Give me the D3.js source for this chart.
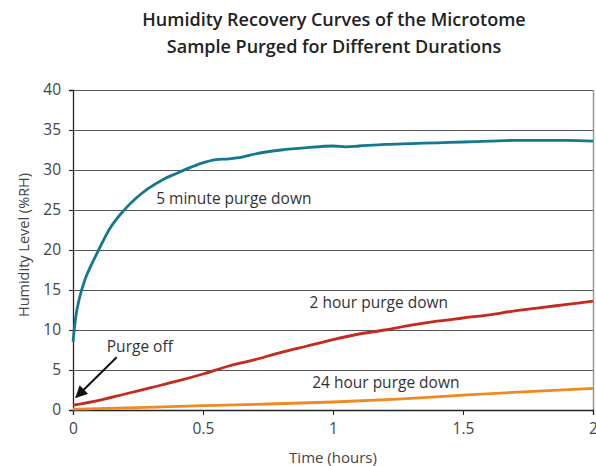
<!DOCTYPE html>
<html>
<head>
<meta charset="utf-8">
<script src="https://cdn.jsdelivr.net/npm/d3@7"></script>
<style>
body { margin: 0; background: #fff; }
svg text { font-family: "Open Sans", sans-serif; }
</style>
</head>
<body>
<svg id="chart" width="596" height="466"></svg>
<script>
// values (time in hours, humidity in %RH)
var fiveMinT = [0, 0.01, 0.025, 0.046, 0.07, 0.097, 0.14, 0.194, 0.24, 0.29, 0.34, 0.40, 0.45, 0.49, 0.55, 0.60, 0.65, 0.70, 0.80, 0.90, 1.0, 1.05, 1.1, 1.2, 1.3, 1.4, 1.5, 1.6, 1.7, 1.8, 1.9, 2.0];
var fiveMinH = [8.5, 11.5, 14.0, 16.3, 18.1, 19.9, 22.6, 24.9, 26.4, 27.7, 28.7, 29.6, 30.3, 30.8, 31.3, 31.4, 31.6, 32.0, 32.5, 32.8, 33.0, 32.9, 33.0, 33.2, 33.3, 33.4, 33.5, 33.6, 33.7, 33.7, 33.7, 33.6];
var twoHourT = [0, 0.1, 0.2, 0.3, 0.4, 0.5, 0.6, 0.7, 0.8, 0.9, 1.0, 1.1, 1.2, 1.3, 1.4, 1.5, 1.6, 1.7, 1.8, 1.9, 2.0];
var twoHourH = [0.6, 1.2, 2.0, 2.8, 3.6, 4.5, 5.5, 6.3, 7.2, 8.0, 8.8, 9.5, 10.0, 10.6, 11.1, 11.5, 11.9, 12.4, 12.8, 13.2, 13.6];
var dayT = [0, 0.25, 0.5, 0.75, 1.0, 1.25, 1.5, 1.75, 2.0];
var dayH = [0.1, 0.3, 0.55, 0.75, 1.0, 1.35, 1.85, 2.3, 2.7];
var yTicks = [0, 5, 10, 15, 20, 25, 30, 35, 40];
var xTicks = [0, 0.5, 1, 1.5, 2];

var svg = d3.select("#chart");
var margin = {top: 90, right: 3, bottom: 56, left: 73};
var w = 596 - margin.left - margin.right;
var h = 466 - margin.top - margin.bottom;

var x = d3.scaleLinear().domain([0, 2]).range([0, w]);
var y = d3.scaleLinear().domain([0, 40]).range([h, 0]);

var g = svg.append("g").attr("transform", "translate(" + margin.left + "," + margin.top + ")");

// title
var title = svg.append("text")
	.attr("text-anchor", "middle")
	.style("font-weight", "600")
	.style("font-size", "18px")
	.style("fill", "#222");
title.append("tspan").attr("x", 334).attr("y", 26).text("Humidity Recovery Curves of the Microtome");
title.append("tspan").attr("x", 334).attr("y", 53).text("Sample Purged for Different Durations");

// gridlines
g.selectAll(".grid")
	.data(yTicks.filter(function(d) { return d > 0; }))
	.enter()
	.append("line")
	.attr("x1", 0).attr("x2", w)
	.attr("y1", function(d) { return y(d) + 0.5; })
	.attr("y2", function(d) { return y(d) + 0.5; })
	.style("stroke", "#555")
	.style("stroke-width", 1.2);

// right border
g.append("line")
	.attr("x1", w + 0.5).attr("x2", w + 0.5)
	.attr("y1", 0).attr("y2", h)
	.style("stroke", "#999")
	.style("stroke-width", 1.5);

// axes
var yAxis = g.append("g")
	.call(d3.axisLeft(y).tickValues(yTicks).tickSize(4).tickPadding(8));
var xAxis = g.append("g")
	.attr("transform", "translate(0," + h + ")")
	.call(d3.axisBottom(x).tickValues(xTicks).tickSize(5).tickPadding(8).tickFormat(d3.format("")));
[yAxis, xAxis].forEach(function(a) {
	a.attr("font-family", null);
	a.select(".domain").style("stroke", "#222").style("stroke-width", 1.3);
	a.selectAll(".tick line").style("stroke", "#222");
	a.selectAll(".tick text")
		.style("font-size", "15.5px")
		.style("fill", "#444");
});

// axis titles
svg.append("text")
	.attr("x", margin.left + w / 2)
	.attr("y", 463)
	.attr("text-anchor", "middle")
	.style("font-size", "15px")
	.style("fill", "#444")
	.text("Time (hours)");
svg.append("text")
	.attr("transform", "translate(29," + (margin.top + h / 2 - 5) + ") rotate(-90)")
	.attr("text-anchor", "middle")
	.style("font-size", "14.5px")
	.style("fill", "#444")
	.text("Humidity Level (%RH)");

// curves
var series = [
	{t: dayT, v: dayH, color: "#ee8a22"},
	{t: twoHourT, v: twoHourH, color: "#c42a1e"},
	{t: fiveMinT, v: fiveMinH, color: "#14788f"}
];
var line = d3.line()
	.x(function(d) { return x(d[0]); })
	.y(function(d) { return y(d[1]); })
	.curve(d3.curveMonotoneX);
series.forEach(function(s) {
	g.append("path")
		.datum(d3.zip(s.t, s.v))
		.attr("d", line)
		.style("fill", "none")
		.style("stroke", s.color)
		.style("stroke-width", 2.8);
});

// curve labels
var labels = [
	{text: "5 minute purge down", t: 0.32, v: 25.8},
	{text: "2 hour purge down", t: 0.91, v: 12.8},
	{text: "24 hour purge down", t: 0.92, v: 2.8}
];
g.selectAll(".lbl")
	.data(labels)
	.enter()
	.append("text")
	.attr("x", function(d) { return x(d.t); })
	.attr("y", function(d) { return y(d.v); })
	.style("font-size", "15.5px")
	.style("fill", "#333")
	.text(function(d) { return d.text; });

// purge off annotation
svg.append("defs").append("marker")
	.attr("id", "arrow")
	.attr("viewBox", "0 0 10 10")
	.attr("refX", 9).attr("refY", 5)
	.attr("markerWidth", 7).attr("markerHeight", 6)
	.attr("markerUnits", "strokeWidth")
	.attr("orient", "auto")
	.append("path")
	.attr("d", "M0,0 L10,5 L0,10 Z")
	.style("fill", "#111");
g.append("line")
	.attr("x1", x(0.168)).attr("y1", y(6.6))
	.attr("x2", x(0.012)).attr("y2", y(1.6))
	.style("stroke", "#111")
	.style("stroke-width", 2)
	.attr("marker-end", "url(#arrow)");
g.append("text")
	.attr("x", x(0.13))
	.attr("y", y(7.3))
	.style("font-size", "15.5px")
	.style("fill", "#333")
	.text("Purge off");
</script>
</body>
</html>
